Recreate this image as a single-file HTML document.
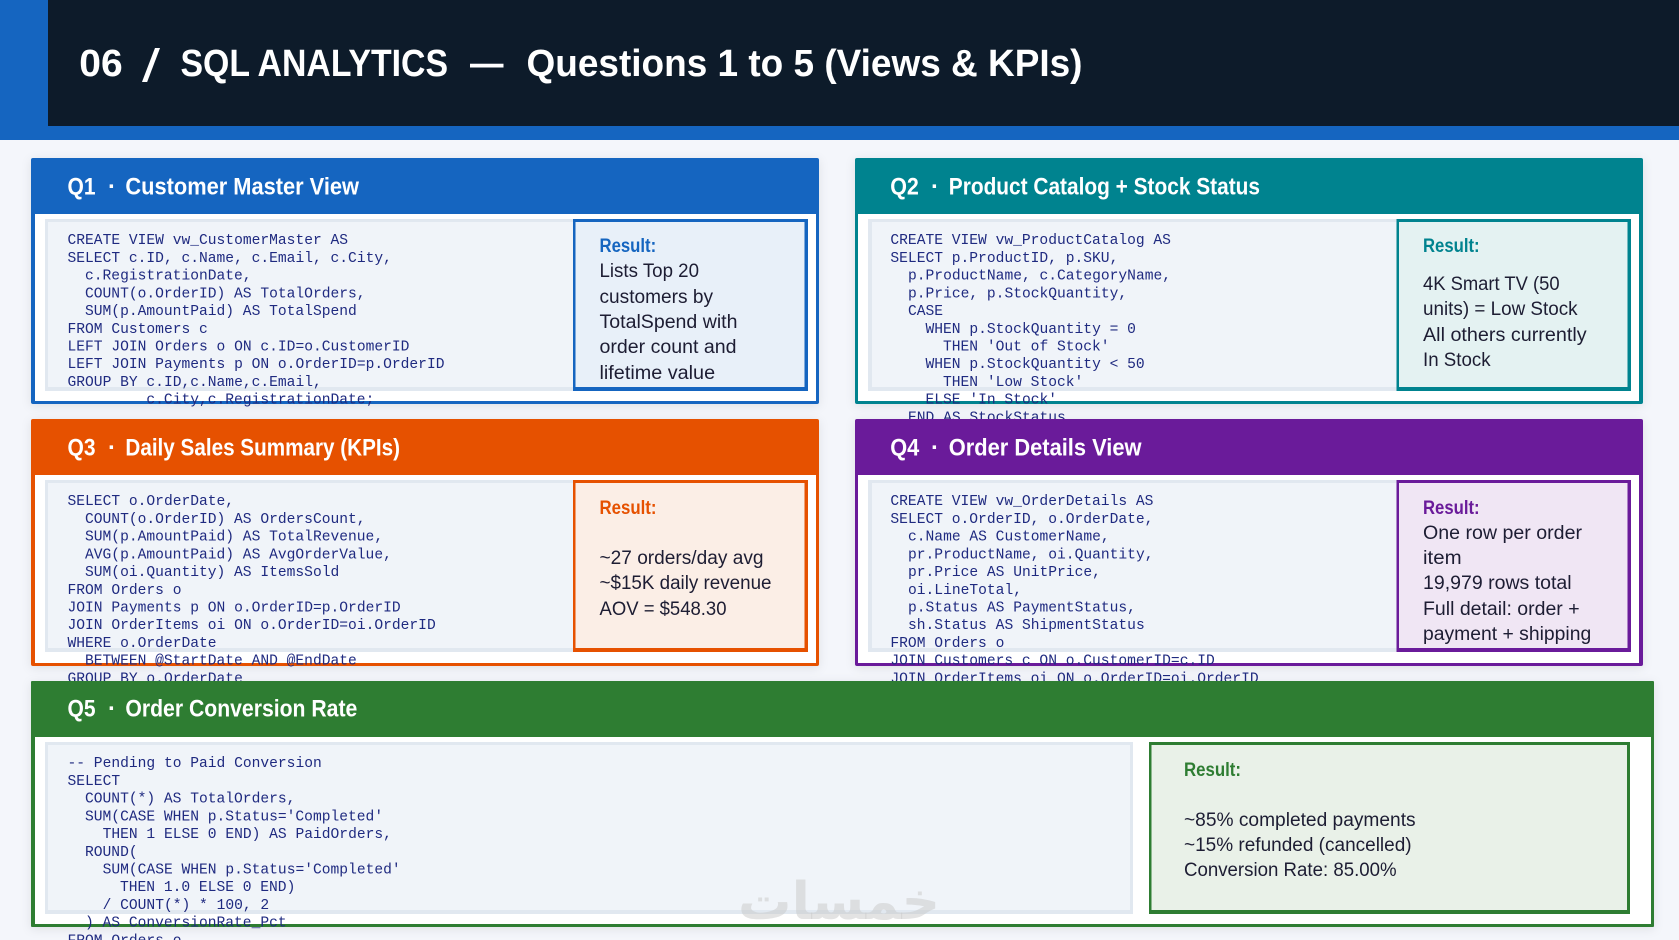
<!DOCTYPE html>
<html><head><meta charset="utf-8"><title>SQL Analytics</title>
<style>
html,body{margin:0;padding:0;background:#f4f6fb;width:1679px;height:940px;overflow:hidden}
svg{display:block}
.c{font:14.62px "Liberation Mono",monospace;fill:#1f2a80;white-space:pre}
.h{font:bold 24px "Liberation Sans",sans-serif;fill:#fff}
.t{font:bold 38px "Liberation Sans",sans-serif;fill:#fff}
.r{font:bold 19px "Liberation Sans",sans-serif}
.b{font:19px "Liberation Sans",sans-serif;fill:#1d1d33}
.card{filter:drop-shadow(0 2px 5px rgba(0,0,0,.09))}
</style></head><body>
<svg xmlns="http://www.w3.org/2000/svg" width="1679" height="940" viewBox="0 0 1679 940">
<rect width="1679" height="940" fill="#f4f6fb"/>
<rect width="1679" height="140" fill="#1565c0"/>
<rect x="48" width="1631" height="126" fill="#0d1b2a"/>
<text class="t" x="79.3" y="76" textLength="43.4" lengthAdjust="spacingAndGlyphs">06</text>
<text x="142" y="81.5" font-family="'Liberation Sans',sans-serif" font-size="46" fill="#fff" textLength="18" lengthAdjust="spacingAndGlyphs">/</text>
<text class="t" x="180.5" y="76" textLength="267.5" lengthAdjust="spacingAndGlyphs">SQL ANALYTICS</text>
<text class="t" x="470" y="76" textLength="33.5" lengthAdjust="spacingAndGlyphs">—</text>
<text class="t" x="526.5" y="76" textLength="556" lengthAdjust="spacingAndGlyphs">Questions 1 to 5  (Views &amp; KPIs)</text>

<!-- Q1 -->
<rect class="card" x="31" y="158" width="788" height="246" rx="2" fill="#1565c0"/>
<rect x="35" y="214" width="781" height="187" fill="#fff"/>
<text class="h" x="67.5" y="194.5" textLength="28" lengthAdjust="spacingAndGlyphs">Q1</text>
<text class="h" x="108" y="194.5">·</text>
<text class="h" x="125.4" y="194.5" textLength="233.6" lengthAdjust="spacingAndGlyphs">Customer Master View</text>
<rect x="45" y="219" width="530" height="172" fill="#e1e8f0"/>
<rect x="48" y="222" width="527" height="165" fill="#f0f4f9"/>
<text class="c" x="67.5" y="244.2">CREATE VIEW vw_CustomerMaster AS</text>
<text class="c" x="67.5" y="261.9">SELECT c.ID, c.Name, c.Email, c.City,</text>
<text class="c" x="85" y="279.6">c.RegistrationDate,</text>
<text class="c" x="85" y="297.4">COUNT(o.OrderID) AS TotalOrders,</text>
<text class="c" x="85" y="315.1">SUM(p.AmountPaid) AS TotalSpend</text>
<text class="c" x="67.5" y="332.8">FROM Customers c</text>
<text class="c" x="67.5" y="350.5">LEFT JOIN Orders o ON c.ID=o.CustomerID</text>
<text class="c" x="67.5" y="368.2">LEFT JOIN Payments p ON o.OrderID=p.OrderID</text>
<text class="c" x="67.5" y="386">GROUP BY c.ID,c.Name,c.Email,</text>
<text class="c" x="146.4" y="403.7">c.City,c.RegistrationDate;</text>
<rect x="573" y="219" width="235" height="172" fill="#1565c0"/>
<rect x="575.5" y="222" width="229" height="165" fill="#e8f0f9"/>
<text class="r" fill="#1565c0" x="599.5" y="252" textLength="56.7" lengthAdjust="spacingAndGlyphs">Result:</text>
<text class="b" x="599.5" y="277" textLength="99.5" lengthAdjust="spacingAndGlyphs">Lists Top 20</text>
<text class="b" x="599.5" y="303" textLength="113.5" lengthAdjust="spacingAndGlyphs">customers by</text>
<text class="b" x="599.5" y="328" textLength="138" lengthAdjust="spacingAndGlyphs">TotalSpend with</text>
<text class="b" x="599.5" y="353" textLength="137" lengthAdjust="spacingAndGlyphs">order count and</text>
<text class="b" x="599.5" y="379" textLength="115.6" lengthAdjust="spacingAndGlyphs">lifetime value</text>

<!-- Q2 -->
<rect class="card" x="855" y="158" width="788" height="246" rx="2" fill="#00838f"/>
<rect x="858" y="214" width="781" height="187" fill="#fff"/>
<text class="h" x="890.2" y="194.5" textLength="28.6" lengthAdjust="spacingAndGlyphs">Q2</text>
<text class="h" x="931" y="194.5">·</text>
<text class="h" x="948.8" y="194.5" textLength="311.2" lengthAdjust="spacingAndGlyphs">Product Catalog + Stock Status</text>
<rect x="868" y="219" width="531" height="172" fill="#e1e8f0"/>
<rect x="872" y="222" width="527" height="165" fill="#f0f4f9"/>
<text class="c" x="890.4" y="244.2">CREATE VIEW vw_ProductCatalog AS</text>
<text class="c" x="890.4" y="261.9">SELECT p.ProductID, p.SKU,</text>
<text class="c" x="908" y="279.6">p.ProductName, c.CategoryName,</text>
<text class="c" x="908" y="297.4">p.Price, p.StockQuantity,</text>
<text class="c" x="908" y="315.1">CASE</text>
<text class="c" x="925.5" y="332.8">WHEN p.StockQuantity = 0</text>
<text class="c" x="943" y="350.5">THEN 'Out of Stock'</text>
<text class="c" x="925.5" y="368.2">WHEN p.StockQuantity &lt; 50</text>
<text class="c" x="943" y="386">THEN 'Low Stock'</text>
<text class="c" x="925.5" y="403.7">ELSE 'In Stock'</text>
<text class="c" x="908" y="421.4">END AS StockStatus,</text>
<rect x="1396.5" y="219" width="234.5" height="172" fill="#00838f"/>
<rect x="1399" y="222" width="228.5" height="165" fill="#e4f2f2"/>
<text class="r" fill="#00838f" x="1423" y="252" textLength="56.6" lengthAdjust="spacingAndGlyphs">Result:</text>
<text class="b" x="1423" y="290" textLength="136.6" lengthAdjust="spacingAndGlyphs">4K Smart TV (50</text>
<text class="b" x="1423" y="315" textLength="154.6" lengthAdjust="spacingAndGlyphs">units) = Low Stock</text>
<text class="b" x="1423" y="341" textLength="163.6" lengthAdjust="spacingAndGlyphs">All others currently</text>
<text class="b" x="1423" y="366" textLength="67.6" lengthAdjust="spacingAndGlyphs">In Stock</text>

<!-- Q3 -->
<rect class="card" x="31" y="419" width="788" height="247" rx="2" fill="#e65100"/>
<rect x="35" y="475" width="781" height="188" fill="#fff"/>
<text class="h" x="67.5" y="455.7" textLength="28" lengthAdjust="spacingAndGlyphs">Q3</text>
<text class="h" x="108" y="455.7">·</text>
<text class="h" x="125.4" y="455.7" textLength="274.6" lengthAdjust="spacingAndGlyphs">Daily Sales Summary (KPIs)</text>
<rect x="45" y="480" width="530" height="172" fill="#e1e8f0"/>
<rect x="48" y="483" width="527" height="165" fill="#f0f4f9"/>
<text class="c" x="67.5" y="505.2">SELECT o.OrderDate,</text>
<text class="c" x="85" y="522.9">COUNT(o.OrderID) AS OrdersCount,</text>
<text class="c" x="85" y="540.6">SUM(p.AmountPaid) AS TotalRevenue,</text>
<text class="c" x="85" y="558.4">AVG(p.AmountPaid) AS AvgOrderValue,</text>
<text class="c" x="85" y="576.1">SUM(oi.Quantity) AS ItemsSold</text>
<text class="c" x="67.5" y="593.8">FROM Orders o</text>
<text class="c" x="67.5" y="611.5">JOIN Payments p ON o.OrderID=p.OrderID</text>
<text class="c" x="67.5" y="629.2">JOIN OrderItems oi ON o.OrderID=oi.OrderID</text>
<text class="c" x="67.5" y="647">WHERE o.OrderDate</text>
<text class="c" x="85" y="664.7">BETWEEN @StartDate AND @EndDate</text>
<text class="c" x="67.5" y="682.4">GROUP BY o.OrderDate</text>
<rect x="573" y="480" width="235" height="172" fill="#e65100"/>
<rect x="575.5" y="483" width="229" height="165" fill="#fbeee6"/>
<text class="r" fill="#e65100" x="599.5" y="514" textLength="57" lengthAdjust="spacingAndGlyphs">Result:</text>
<text class="b" x="599.5" y="564" textLength="164" lengthAdjust="spacingAndGlyphs">~27 orders/day avg</text>
<text class="b" x="599.5" y="589" textLength="172" lengthAdjust="spacingAndGlyphs">~$15K daily revenue</text>
<text class="b" x="599.5" y="615" textLength="127" lengthAdjust="spacingAndGlyphs">AOV = $548.30</text>

<!-- Q4 -->
<rect class="card" x="855" y="419" width="788" height="247" rx="2" fill="#6a1b9a"/>
<rect x="858" y="475" width="781" height="188" fill="#fff"/>
<text class="h" x="890.2" y="455.7" textLength="29" lengthAdjust="spacingAndGlyphs">Q4</text>
<text class="h" x="931" y="455.7">·</text>
<text class="h" x="948.8" y="455.7" textLength="192.7" lengthAdjust="spacingAndGlyphs">Order Details View</text>
<rect x="868" y="480" width="531" height="172" fill="#e1e8f0"/>
<rect x="872" y="483" width="527" height="165" fill="#f0f4f9"/>
<text class="c" x="890.4" y="505.2">CREATE VIEW vw_OrderDetails AS</text>
<text class="c" x="890.4" y="522.9">SELECT o.OrderID, o.OrderDate,</text>
<text class="c" x="908" y="540.6">c.Name AS CustomerName,</text>
<text class="c" x="908" y="558.4">pr.ProductName, oi.Quantity,</text>
<text class="c" x="908" y="576.1">pr.Price AS UnitPrice,</text>
<text class="c" x="908" y="593.8">oi.LineTotal,</text>
<text class="c" x="908" y="611.5">p.Status AS PaymentStatus,</text>
<text class="c" x="908" y="629.2">sh.Status AS ShipmentStatus</text>
<text class="c" x="890.4" y="647">FROM Orders o</text>
<text class="c" x="890.4" y="664.7">JOIN Customers c ON o.CustomerID=c.ID</text>
<text class="c" x="890.4" y="682.4">JOIN OrderItems oi ON o.OrderID=oi.OrderID</text>
<rect x="1396.5" y="480" width="234.5" height="172" fill="#6a1b9a"/>
<rect x="1399" y="483" width="228.5" height="165" fill="#f0e6f4"/>
<text class="r" fill="#6a1b9a" x="1423" y="514" textLength="56.6" lengthAdjust="spacingAndGlyphs">Result:</text>
<text class="b" x="1423" y="539" textLength="159" lengthAdjust="spacingAndGlyphs">One row per order</text>
<text class="b" x="1423" y="564" textLength="38.6" lengthAdjust="spacingAndGlyphs">item</text>
<text class="b" x="1423" y="589" textLength="148.6" lengthAdjust="spacingAndGlyphs">19,979 rows total</text>
<text class="b" x="1423" y="615" textLength="156.6" lengthAdjust="spacingAndGlyphs">Full detail: order +</text>
<text class="b" x="1423" y="640" textLength="168.2" lengthAdjust="spacingAndGlyphs">payment + shipping</text>

<!-- Q5 -->
<rect class="card" x="31" y="681" width="1623" height="246" rx="1" fill="#2e7d32"/>
<rect x="35" y="737" width="1616" height="187" fill="#fff"/>
<text class="h" x="67.5" y="716.7" textLength="28" lengthAdjust="spacingAndGlyphs">Q5</text>
<text class="h" x="108" y="716.7">·</text>
<text class="h" x="125.4" y="716.7" textLength="231.9" lengthAdjust="spacingAndGlyphs">Order Conversion Rate</text>
<rect x="45" y="742" width="1088" height="172" fill="#e1e8f0"/>
<rect x="48" y="745" width="1082" height="165" fill="#f0f4f9"/>
<text class="c" x="67.5" y="767.2">-- Pending to Paid Conversion</text>
<text class="c" x="67.5" y="784.9">SELECT</text>
<text class="c" x="85" y="802.6">COUNT(*) AS TotalOrders,</text>
<text class="c" x="85" y="820.4">SUM(CASE WHEN p.Status='Completed'</text>
<text class="c" x="102.6" y="838.1">THEN 1 ELSE 0 END) AS PaidOrders,</text>
<text class="c" x="85" y="855.8">ROUND(</text>
<text class="c" x="102.6" y="873.5">SUM(CASE WHEN p.Status='Completed'</text>
<text class="c" x="120" y="891.2">THEN 1.0 ELSE 0 END)</text>
<text class="c" x="102.6" y="909">/ COUNT(*) * 100, 2</text>
<text class="c" x="85" y="926.7">) AS ConversionRate_Pct</text>
<text class="c" x="67.5" y="944.4">FROM Orders o</text>
<rect x="1149" y="742" width="481" height="172" fill="#2e7d32"/>
<rect x="1151.5" y="745" width="475.5" height="165" fill="#e9f1e8"/>
<text class="r" fill="#2e7d32" x="1184" y="776" textLength="57" lengthAdjust="spacingAndGlyphs">Result:</text>
<text class="b" x="1184" y="826" textLength="231.6" lengthAdjust="spacingAndGlyphs">~85% completed payments</text>
<text class="b" x="1184" y="851" textLength="227.6" lengthAdjust="spacingAndGlyphs">~15% refunded (cancelled)</text>
<text class="b" x="1184" y="876" textLength="212.6" lengthAdjust="spacingAndGlyphs">Conversion Rate: 85.00%</text>

<!-- watermark -->
<text x="940" y="919" textLength="202" lengthAdjust="spacingAndGlyphs" font-family="'DejaVu Sans',sans-serif" font-weight="bold" font-size="52" fill="#c8c8c8" fill-opacity=".5" direction="rtl">خمسات</text>
</svg>
</body></html>
